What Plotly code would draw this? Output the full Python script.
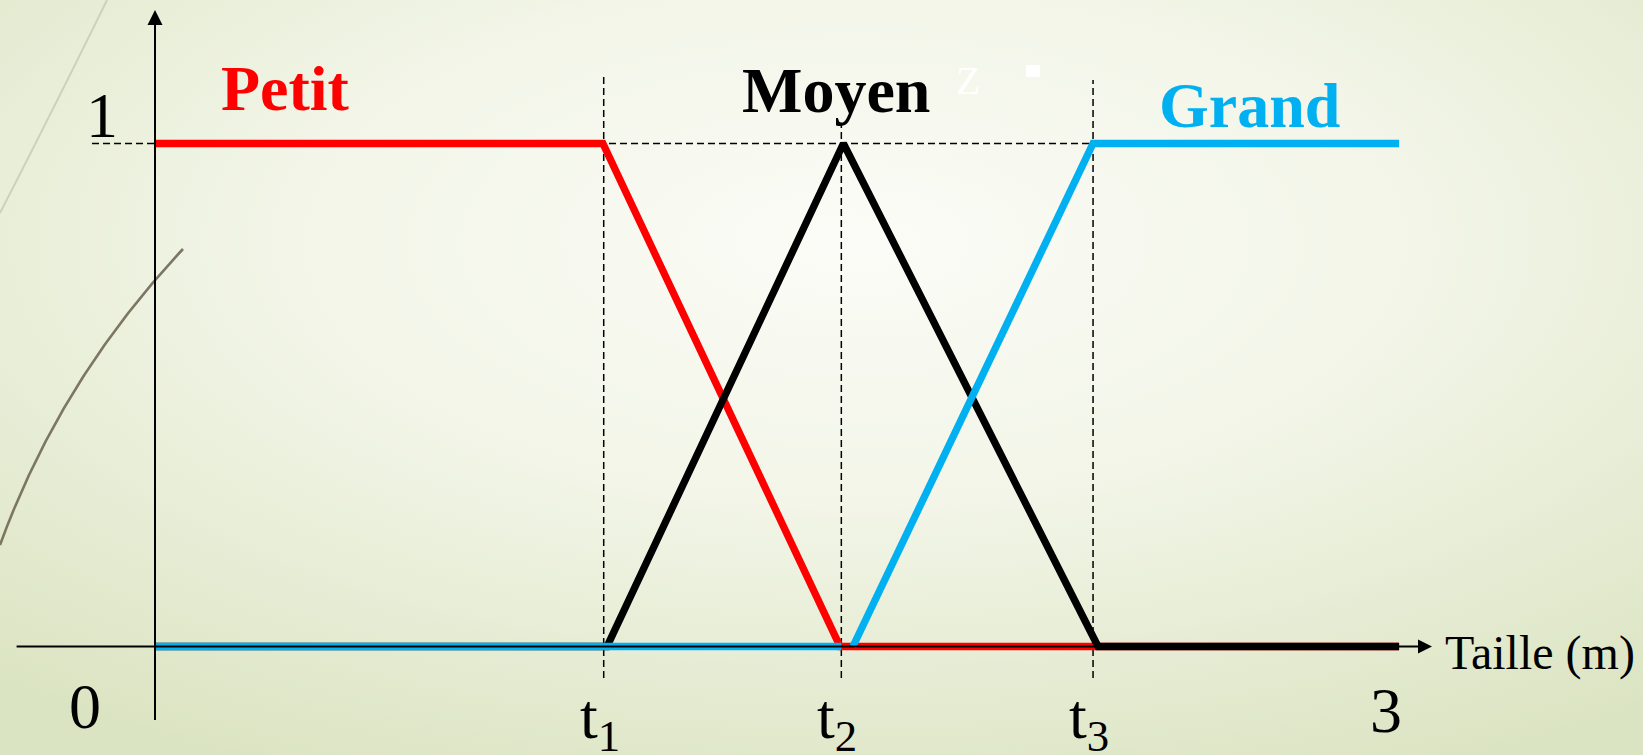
import base64
import plotly.graph_objects as go

# ---------------- data ----------------
t_labels = ["t<sub>1</sub>", "t<sub>2</sub>", "t<sub>3</sub>"]
t_values = [1.082, 1.655, 2.262]

petit_x = [0, 1.08, 1.652, 3]
petit_y = [1, 1, 0, 0]

moyen_x = [0, 1.09, 1.66, 2.274, 3]
moyen_y = [0, 0, 1, 0, 0]

grand_x = [0, 1.655, None, 1.683, 2.262, 3]
grand_y = [0, 0, None, 0, 1, 1]

series_names = ["Petit", "Moyen", "Grand"]
series_colors = ["#ff0000", "#000000", "#00b0f0"]

x_tick_labels = ["0", "3"]
x_tick_values = [0, 3]
y_tick_labels = ["1"]
y_tick_values = [1]
x_title = "Taille (m)"

# ---------------- layout constants ----------------
W, H = 1643, 755
PX_X = 414.7   # px per x unit
PX_Y = 503.0   # px per y unit
X0_PX = 155.0
Y0_PX = 646.5

def xr(px):
    return (px - X0_PX) / PX_X

def yr(py):
    return (Y0_PX - py) / PX_Y

x_range = [xr(0), xr(W)]
y_range = [yr(H), yr(0)]

FONT = "Liberation Serif, Times New Roman, serif"

# ---------------- background (slide theme) ----------------
svg = f'''<svg xmlns="http://www.w3.org/2000/svg" width="{W}" height="{H}" viewBox="0 0 {W} {H}" preserveAspectRatio="none">
<defs><radialGradient id="g" cx="0.52" cy="0.32" r="0.78" gradientUnits="objectBoundingBox">
<stop offset="0" stop-color="#fbfcf7"/><stop offset="0.45" stop-color="#f2f5e7"/><stop offset="1" stop-color="#dbe4c2"/></radialGradient></defs>
<rect width="{W}" height="{H}" fill="url(#g)"/>
<path d="M107,0 Q58,100 0,213" stroke="#cfd0bd" stroke-width="2" fill="none"/>
<path d="M183,249 Q60,380 0,545" stroke="#7c7763" stroke-width="2.6" fill="none"/>
</svg>'''
bg_src = "data:image/svg+xml;base64," + base64.b64encode(svg.encode()).decode()

fig = go.Figure()

# dashed guides
fig.add_trace(go.Scatter(x=[xr(92), t_values[2]], y=[1, 1], mode="lines",
                         line=dict(color="black", width=1.5, dash="7px,4px"),
                         hoverinfo="skip", showlegend=False))
guide_tops = [yr(77), yr(125), yr(80)]
for tv, top in zip(t_values, guide_tops):
    fig.add_trace(go.Scatter(x=[tv, tv], y=[yr(678), top], mode="lines",
                             line=dict(color="black", width=1.5, dash="7px,4px"),
                             hoverinfo="skip", showlegend=False))

# membership functions
for xs, ys, name, col in [(petit_x, petit_y, "Petit", series_colors[0]),
                          (moyen_x, moyen_y, "Moyen", series_colors[1]),
                          (grand_x, grand_y, "Grand", series_colors[2])]:
    fig.add_trace(go.Scatter(x=xs, y=ys, mode="lines", name=name,
                             line=dict(color=col, width=7.3),
                             connectgaps=False, showlegend=False))

annotations = []
# axes with arrows
annotations.append(dict(x=xr(1432), y=0, ax=xr(13.6), ay=0, xref="x", yref="y",
                        axref="x", ayref="y", showarrow=True, arrowhead=2,
                        arrowsize=1.4, arrowwidth=2, arrowcolor="black",
                        standoff=0, startstandoff=0, text=" "))
annotations.append(dict(x=0, y=yr(10), ax=0, ay=yr(730), xref="x", yref="y",
                        axref="x", ayref="y", showarrow=True, arrowhead=2,
                        arrowsize=1.5, arrowwidth=2, arrowcolor="black",
                        standoff=0, startstandoff=0, text=" "))

# series labels
label_pos = [(xr(285), yr(88)), (xr(836), yr(90)), (xr(1249), yr(105))]
for name, col, (lx, ly) in zip(series_names, series_colors, label_pos):
    annotations.append(dict(x=lx, y=ly, xref="x", yref="y", showarrow=False,
                            text=f"<b>{name}</b>", xanchor="center", yanchor="middle",
                            font=dict(family=FONT, size=64, color=col)))

# tick labels
for lab, v, xs_, ys_ in zip(x_tick_labels, x_tick_values, [-70, -13], [-60, -64]):
    annotations.append(dict(x=v, y=0, xref="x", yref="y", showarrow=False, text=lab,
                            xanchor="center", yanchor="middle", xshift=xs_, yshift=ys_,
                            font=dict(family=FONT, size=64, color="black")))
for lab, v in zip(y_tick_labels, y_tick_values):
    annotations.append(dict(x=0, y=v, xref="x", yref="y", showarrow=False, text=lab,
                            xanchor="center", yanchor="middle", xshift=-53, yshift=28,
                            font=dict(family=FONT, size=64, color="black")))
for lab, v in zip(t_labels, t_values):
    annotations.append(dict(x=v, y=0, xref="x", yref="y", showarrow=False, text=lab,
                            xanchor="center", yanchor="middle", xshift=-4, yshift=-74,
                            font=dict(family=FONT, size=64, color="black")))

# axis title
annotations.append(dict(x=xr(1443), y=0, xref="x", yref="y", showarrow=False,
                        text=x_title, xanchor="left", yanchor="middle", yshift=-6,
                        font=dict(family=FONT, size=48, color="black")))

# faint white slide artefacts
annotations.append(dict(x=xr(968), y=yr(80), xref="x", yref="y", showarrow=False,
                        text="Z", xanchor="center", yanchor="middle",
                        font=dict(family=FONT, size=40, color="white")))

shapes = [dict(type="rect", xref="x", yref="y", x0=xr(1026), x1=xr(1040),
               y0=yr(77), y1=yr(65), fillcolor="white", line=dict(width=0))]

fig.update_layout(
    width=W, height=H,
    margin=dict(l=0, r=0, t=0, b=0),
    paper_bgcolor="#eef2e0",
    plot_bgcolor="rgba(0,0,0,0)",
    xaxis=dict(range=x_range, visible=False, fixedrange=True),
    yaxis=dict(range=y_range, visible=False, fixedrange=True),
    annotations=annotations,
    shapes=shapes,
    images=[dict(source=bg_src, xref="paper", yref="paper", x=0, y=1,
                 sizex=1, sizey=1, xanchor="left", yanchor="top",
                 sizing="stretch", layer="below")],
    showlegend=False,
)

fig.write_html("out.html", config={"displayModeBar": False},
               post_script="document.body.style.margin='0';document.body.style.overflow='hidden';")
